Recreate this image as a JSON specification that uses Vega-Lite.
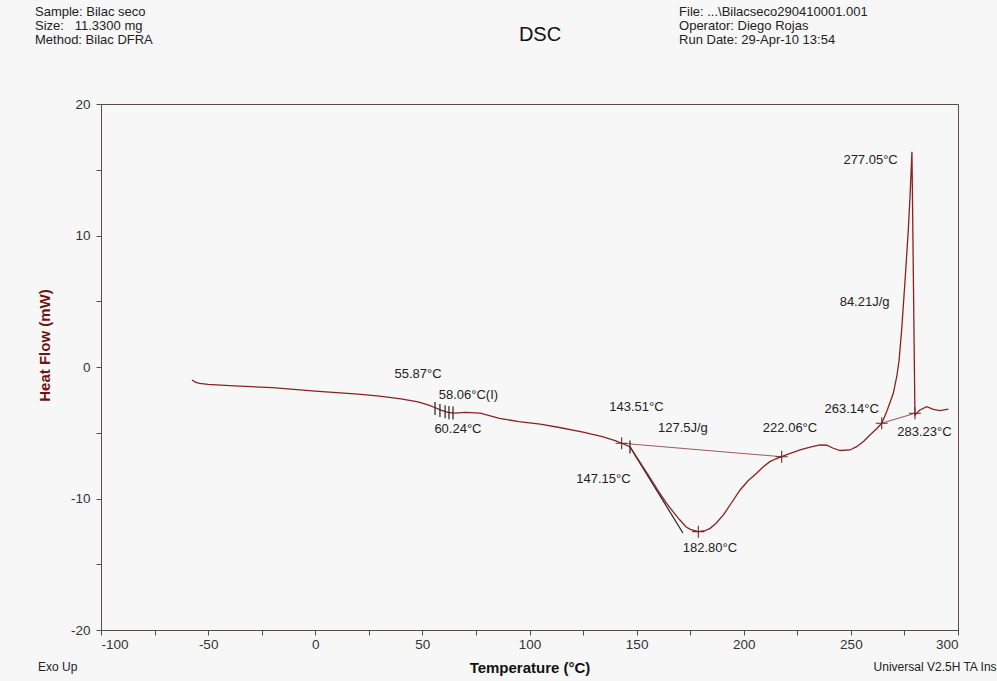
{
  "$schema": "https://vega.github.io/schema/vega-lite/v6.json",
  "width": 857,
  "height": 526,
  "autosize": {"type": "none"},
  "padding": {"left": 101, "top": 104, "right": 39, "bottom": 51},
  "background": "#f7f7f7",
  "config": {
    "view": {"stroke": "#5a4a4a", "strokeWidth": 1},
    "font": "Liberation Sans",
    "axis": {"grid": false, "domainColor": "#5a4a4a", "tickColor": "#5a4a4a", "tickSize": 5, "labelFont": "Liberation Sans", "labelFontSize": 13.5, "labelColor": "#333333", "titleFont": "Liberation Sans"}
  },
  "datasets": {
    "curve": [
      {"T": -57.5, "H": -0.99}, {"T": -56, "H": -1.15}, {"T": -54, "H": -1.25}, {"T": -50, "H": -1.32},
      {"T": -40, "H": -1.42}, {"T": -30, "H": -1.5}, {"T": -20, "H": -1.57}, {"T": -10, "H": -1.7},
      {"T": 0, "H": -1.83}, {"T": 10, "H": -1.95}, {"T": 20, "H": -2.06}, {"T": 30, "H": -2.22},
      {"T": 40, "H": -2.42}, {"T": 48, "H": -2.65}, {"T": 53, "H": -2.9}, {"T": 56, "H": -3.1},
      {"T": 59, "H": -3.3}, {"T": 62, "H": -3.45}, {"T": 65, "H": -3.5}, {"T": 70, "H": -3.45},
      {"T": 77, "H": -3.5}, {"T": 86, "H": -3.9}, {"T": 95, "H": -4.15}, {"T": 105, "H": -4.35},
      {"T": 114, "H": -4.6}, {"T": 125, "H": -4.95}, {"T": 134, "H": -5.3}, {"T": 140, "H": -5.6},
      {"T": 143, "H": -5.8}, {"T": 147, "H": -6.08}, {"T": 150, "H": -6.85}, {"T": 155, "H": -8.1},
      {"T": 160, "H": -9.4}, {"T": 164, "H": -10.37}, {"T": 167, "H": -11.0}, {"T": 170, "H": -11.6},
      {"T": 173, "H": -12.15}, {"T": 175, "H": -12.35}, {"T": 178.8, "H": -12.52}, {"T": 182, "H": -12.45},
      {"T": 184.3, "H": -12.27}, {"T": 187, "H": -11.9}, {"T": 190.5, "H": -11.25}, {"T": 194, "H": -10.4},
      {"T": 198.3, "H": -9.35}, {"T": 202, "H": -8.65}, {"T": 206, "H": -8.08}, {"T": 209, "H": -7.6},
      {"T": 212.2, "H": -7.2}, {"T": 215, "H": -6.98}, {"T": 217.7, "H": -6.82}, {"T": 222, "H": -6.55},
      {"T": 226.3, "H": -6.31}, {"T": 231, "H": -6.1}, {"T": 235.6, "H": -5.93}, {"T": 238.7, "H": -5.95},
      {"T": 241.8, "H": -6.18}, {"T": 245, "H": -6.35}, {"T": 249.6, "H": -6.31}, {"T": 252.7, "H": -6.06},
      {"T": 256, "H": -5.65}, {"T": 258.9, "H": -5.17}, {"T": 262, "H": -4.7}, {"T": 264.4, "H": -4.28},
      {"T": 266.7, "H": -3.4}, {"T": 269.8, "H": -2.0}, {"T": 271.4, "H": -0.74}, {"T": 272.5, "H": 0.5},
      {"T": 273.7, "H": 2.81}, {"T": 275.3, "H": 6.62}, {"T": 276.8, "H": 10.42}, {"T": 277.6, "H": 12.95},
      {"T": 278.5, "H": 16.37}, {"T": 279.1, "H": 7.9}, {"T": 279.9, "H": -3.65}, {"T": 282.2, "H": -3.27},
      {"T": 285.4, "H": -3.02}, {"T": 288.5, "H": -3.22}, {"T": 291.6, "H": -3.32}, {"T": 295.5, "H": -3.2}
    ],
    "baselines": [
      {"seg": "a", "T": 143, "H": -5.8}, {"seg": "a", "T": 217.7, "H": -6.82},
      {"seg": "b", "T": 264.4, "H": -4.28}, {"seg": "b", "T": 279.9, "H": -3.52}
    ],
    "tangents": [
      {"seg": "t", "T": 146.9, "H": -6.08}, {"seg": "t", "T": 171.6, "H": -12.62}
    ],
    "plusmarks": [
      {"T": 143.0, "H": -5.8}, {"T": 217.7, "H": -6.82}, {"T": 178.8, "H": -12.52},
      {"T": 264.4, "H": -4.28}, {"T": 279.9, "H": -3.52}
    ],
    "barmarks": [
      {"T": 55.9, "H": -3.15}, {"T": 58.2, "H": -3.3}, {"T": 60.6, "H": -3.4},
      {"T": 62.4, "H": -3.47}, {"T": 64.3, "H": -3.5}, {"T": 146.9, "H": -6.08}
    ],
    "labels": [
      {"T": 48.0, "H": -0.53, "label": "55.87°C"},
      {"T": 71.5, "H": -2.13, "label": "58.06°C(I)"},
      {"T": 66.6, "H": -4.71, "label": "60.24°C"},
      {"T": 149.9, "H": -3.02, "label": "143.51°C"},
      {"T": 171.6, "H": -4.66, "label": "127.5J/g"},
      {"T": 221.6, "H": -4.66, "label": "222.06°C"},
      {"T": 134.5, "H": -8.54, "label": "147.15°C"},
      {"T": 184.2, "H": -13.76, "label": "182.80°C"},
      {"T": 259.2, "H": 15.74, "label": "277.05°C"},
      {"T": 256.4, "H": 4.97, "label": "84.21J/g"},
      {"T": 250.4, "H": -3.22, "label": "263.14°C"},
      {"T": 284.3, "H": -4.92, "label": "283.23°C"}
    ],
    "headerLeft": [
      {"T": -130.8, "H": 27.0, "label": "Sample: Bilac seco"},
      {"T": -130.8, "H": 25.93, "label": "Size:\u00a0\u00a0\u00a011.3300 mg"},
      {"T": -130.8, "H": 24.87, "label": "Method: Bilac DFRA"},
      {"T": 169.8, "H": 27.0, "label": "File: ...\\Bilacseco290410001.001"},
      {"T": 169.8, "H": 25.93, "label": "Operator: Diego Rojas"},
      {"T": 169.8, "H": 24.87, "label": "Run Date: 29-Apr-10 13:54"}
    ],
    "headerTitle": [
      {"T": 104.9, "H": 25.25, "label": "DSC"}
    ],
    "footerLeft": [
      {"T": -129.4, "H": -22.8, "label": "Exo Up"}
    ],
    "footerRight": [
      {"T": 318.0, "H": -22.8, "label": "Universal V2.5H TA Ins"}
    ]
  },
  "encoding": {
    "x": {
      "field": "T", "type": "quantitative",
      "scale": {"domain": [-100, 300], "nice": false, "zero": false},
      "axis": {
        "values": [-100, -75, -50, -25, 0, 25, 50, 75, 100, 125, 150, 175, 200, 225, 250, 275, 300],
        "labelExpr": "datum.value % 50 === 0 ? '' + datum.value : ''",
        "labelPadding": 2,
        "title": "Temperature (°C)", "titleFontSize": 15, "titleFontWeight": "bold", "titleColor": "#111111",
        "titleY": 37, "titleBaseline": "middle"
      }
    },
    "y": {
      "field": "H", "type": "quantitative",
      "scale": {"domain": [-20, 20], "nice": false, "zero": false},
      "axis": {
        "values": [-20, -15, -10, -5, 0, 5, 10, 15, 20],
        "labelExpr": "datum.value % 10 === 0 ? '' + datum.value : ''",
        "labelPadding": 6,
        "title": "Heat Flow (mW)", "titleFontSize": 15, "titleFontWeight": "bold", "titleColor": "#6e1414",
        "titleX": -57, "titleY": 241, "titleAngle": -90, "titleBaseline": "middle", "titleAlign": "center"
      }
    }
  },
  "layer": [
    {"data": {"name": "baselines"}, "mark": {"type": "line", "color": "#a05a5a", "strokeWidth": 1.1}, "encoding": {"detail": {"field": "seg"}}},
    {"data": {"name": "tangents"}, "mark": {"type": "line", "color": "#222222", "strokeWidth": 1.2}, "encoding": {"detail": {"field": "seg"}}},
    {"data": {"name": "curve"}, "mark": {"type": "line", "color": "#8b2222", "strokeWidth": 1.3}},
    {"data": {"name": "plusmarks"}, "mark": {"type": "point", "shape": "M0,-1V1M-1,0H1", "filled": false, "stroke": "#6a2a2a", "strokeWidth": 1.1, "size": 144, "opacity": 1}},
    {"data": {"name": "barmarks"}, "mark": {"type": "point", "shape": "M0,-1V1", "filled": false, "stroke": "#222222", "strokeWidth": 1.2, "size": 170, "opacity": 1}},
    {"data": {"name": "labels"}, "mark": {"type": "text", "font": "Liberation Sans", "fontSize": 13, "color": "#222222", "align": "center", "baseline": "middle"}, "encoding": {"text": {"field": "label"}}},
    {"data": {"name": "headerLeft"}, "mark": {"type": "text", "font": "Liberation Sans", "fontSize": 13, "color": "#222222", "align": "left", "baseline": "middle"}, "encoding": {"text": {"field": "label"}}},
    {"data": {"name": "headerTitle"}, "mark": {"type": "text", "font": "Liberation Sans", "fontSize": 20, "color": "#111111", "align": "center", "baseline": "middle"}, "encoding": {"text": {"field": "label"}}},
    {"data": {"name": "footerLeft"}, "mark": {"type": "text", "font": "Liberation Sans", "fontSize": 12, "color": "#222222", "align": "left", "baseline": "middle"}, "encoding": {"text": {"field": "label"}}},
    {"data": {"name": "footerRight"}, "mark": {"type": "text", "font": "Liberation Sans", "fontSize": 12, "color": "#222222", "align": "right", "baseline": "middle"}, "encoding": {"text": {"field": "label"}}}
  ]
}
